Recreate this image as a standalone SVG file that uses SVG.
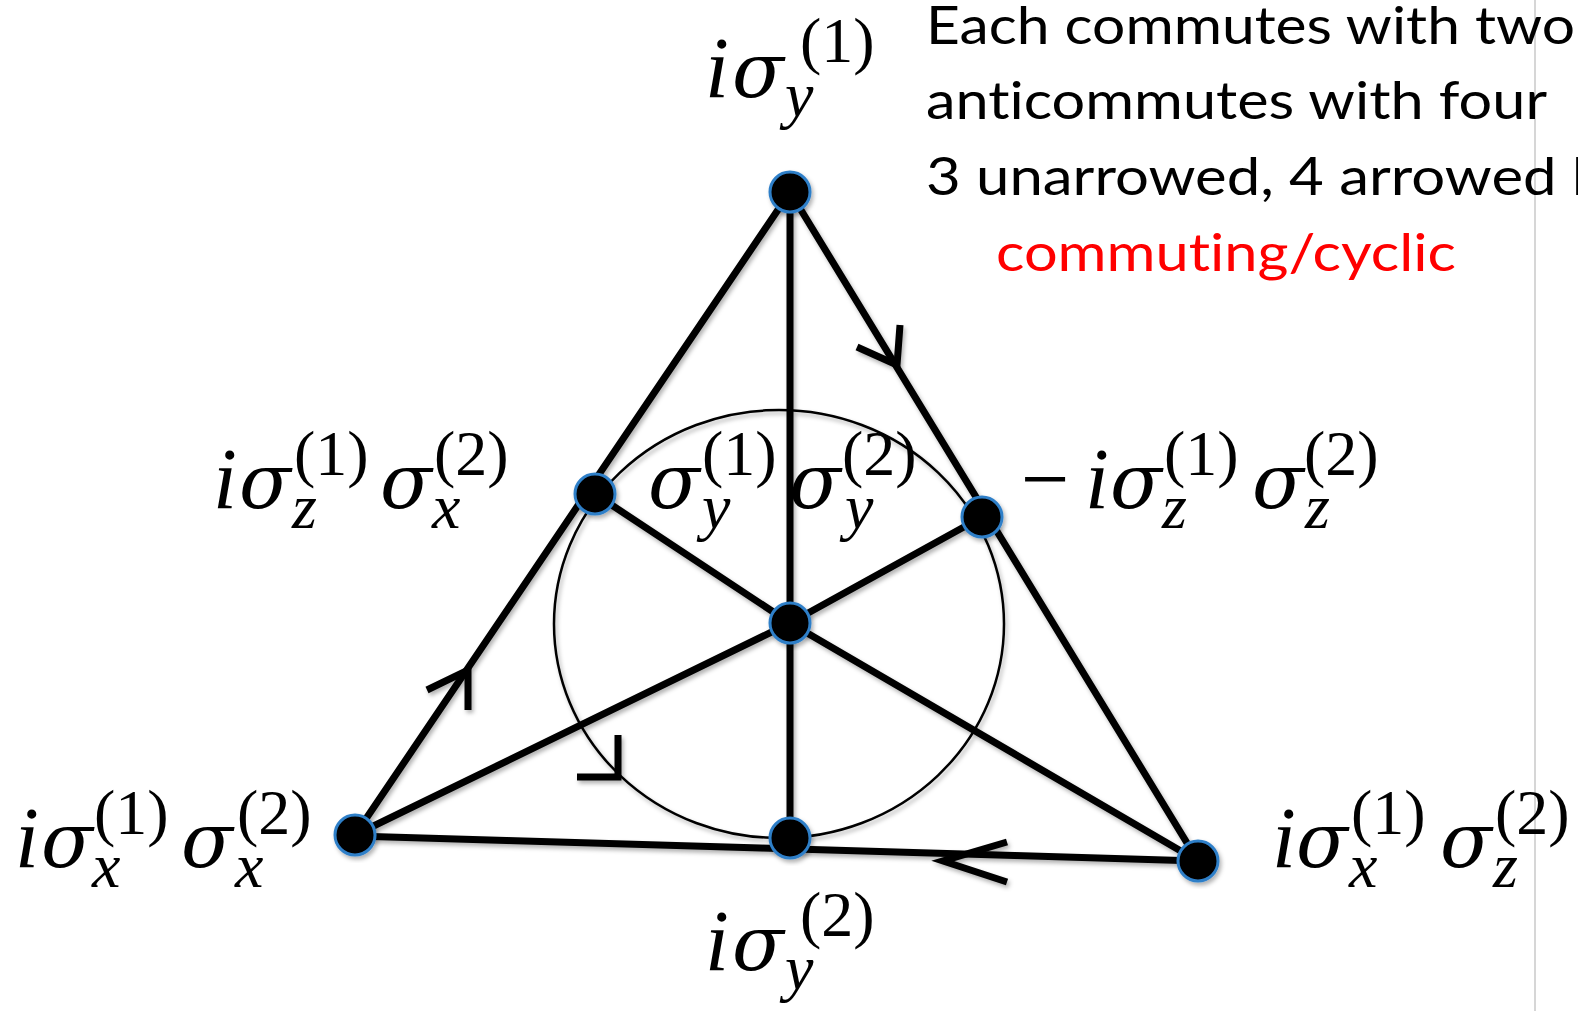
<svg xmlns="http://www.w3.org/2000/svg" width="1578" height="1011" viewBox="0 0 1578 1011">
<defs>
<filter id="sh" x="-20%" y="-20%" width="140%" height="140%">
<feDropShadow dx="2" dy="3" stdDeviation="2" flood-color="#000" flood-opacity="0.3"/>
</filter>
<style>
.edge{fill:none;stroke:#000;stroke-width:7;stroke-linecap:round;stroke-linejoin:round}
.arr{fill:none;stroke:#000;stroke-width:7;stroke-linecap:butt;stroke-linejoin:miter}
.ring{fill:none;stroke:#000;stroke-width:2.5}
.node{fill:#000;stroke:#2f7fc8;stroke-width:3}
.m{font-family:"Liberation Serif","Times New Roman",serif;font-style:italic;font-size:86px;fill:#000}
.g{font-family:"DejaVu Serif",serif;font-style:italic;font-size:76px}
.s{font-size:64px}
.up{font-style:normal}
.t{font-family:Lato,"Open Sans",sans-serif;font-size:53px;fill:#000;font-variant-ligatures:none}
.red{fill:#ff0000}
</style>
</defs>
<rect width="1578" height="1011" fill="#fff"/>
<line x1="1535" y1="0" x2="1535" y2="1011" stroke="#c8c8c8" stroke-width="1.5"/>

<g id="connectors" filter="url(#sh)">
<ellipse class="ring" cx="779" cy="624" rx="225" ry="214"/>
<line class="edge" x1="790" y1="192" x2="355" y2="835"/>
<line class="edge" x1="790" y1="192" x2="1198" y2="861"/>
<line class="edge" x1="355" y1="836" x2="1198" y2="861"/>
<line class="edge" x1="790" y1="192" x2="790" y2="839"/>
<polyline class="edge" points="595,494 790,623 1198,861"/>
<polyline class="edge" points="982,517 790,623 355,835"/>
<polyline class="arr" points="900,325 897,365 857,347"/>
<polyline class="arr" points="468,710 468,670 427,690"/>
<polyline class="arr" points="618,735 618,777 577,777"/>
<polyline class="arr" points="1007,842 943,861 1007,882"/>
</g>

<g id="n-top" filter="url(#sh)"><circle class="node" cx="790" cy="192" r="20"/></g>
<g id="n-left" filter="url(#sh)"><circle class="node" cx="595" cy="494" r="20"/></g>
<g id="n-right" filter="url(#sh)"><circle class="node" cx="982" cy="517" r="20"/></g>
<g id="n-center" filter="url(#sh)"><circle class="node" cx="790" cy="623" r="20"/></g>
<g id="n-bl" filter="url(#sh)"><circle class="node" cx="355" cy="835" r="20"/></g>
<g id="n-bm" filter="url(#sh)"><circle class="node" cx="790" cy="838" r="20"/></g>
<g id="n-br" filter="url(#sh)"><circle class="node" cx="1198" cy="861" r="20"/></g>

<g id="labels">
<text class="m"><tspan x="705" y="97">i</tspan><tspan class="g" x="732" y="97">σ</tspan><tspan class="s up" x="800" y="62">(1)</tspan><tspan class="s" x="785" y="116">y</tspan></text>
<text class="m"><tspan x="213" y="508">i</tspan><tspan class="g" x="239" y="508">σ</tspan><tspan class="s up" x="294" y="475">(1)</tspan><tspan class="s" x="292" y="528">z</tspan><tspan class="g" x="380" y="508">σ</tspan><tspan class="s up" x="434" y="475">(2)</tspan><tspan class="s" x="432" y="528">x</tspan></text>
<text class="m"><tspan class="up" x="1021" y="508">−</tspan><tspan x="1085" y="508">i</tspan><tspan class="g" x="1110" y="508">σ</tspan><tspan class="s up" x="1164" y="475">(1)</tspan><tspan class="s" x="1162" y="528">z</tspan><tspan class="g" x="1252" y="508">σ</tspan><tspan class="s up" x="1304" y="475">(2)</tspan><tspan class="s" x="1305" y="528">z</tspan></text>
<text class="m"><tspan x="15" y="867">i</tspan><tspan class="g" x="41" y="867">σ</tspan><tspan class="s up" x="94" y="834">(1)</tspan><tspan class="s" x="92" y="887">x</tspan><tspan class="g" x="181" y="867">σ</tspan><tspan class="s up" x="237" y="834">(2)</tspan><tspan class="s" x="235" y="887">x</tspan></text>
<text class="m"><tspan x="1272" y="867">i</tspan><tspan class="g" x="1296" y="867">σ</tspan><tspan class="s up" x="1351" y="834">(1)</tspan><tspan class="s" x="1349" y="887">x</tspan><tspan class="g" x="1440" y="867">σ</tspan><tspan class="s up" x="1495" y="834">(2)</tspan><tspan class="s" x="1493" y="887">z</tspan></text>
<text class="m"><tspan x="705" y="970">i</tspan><tspan class="g" x="732" y="970">σ</tspan><tspan class="s up" x="800" y="936">(2)</tspan><tspan class="s" x="785" y="989">y</tspan></text>
<text class="m"><tspan class="g" x="648" y="508">σ</tspan><tspan class="s up" x="702" y="475">(1)</tspan><tspan class="s" x="702" y="528">y</tspan><tspan class="g" x="789" y="508">σ</tspan><tspan class="s up" x="842" y="475">(2)</tspan><tspan class="s" x="845" y="528">y</tspan></text>
</g>

<g id="notes">
<text class="t" x="926" y="44" textLength="649" lengthAdjust="spacingAndGlyphs">Each commutes with two</text>
<text class="t" x="926" y="119" textLength="621" lengthAdjust="spacingAndGlyphs">anticommutes with four</text>
<text class="t" x="926" y="195" textLength="660" lengthAdjust="spacingAndGlyphs">3 unarrowed, 4 arrowed l</text>
<text class="t red" x="996" y="271" textLength="460" lengthAdjust="spacingAndGlyphs">commuting/cyclic</text>
</g>
</svg>
